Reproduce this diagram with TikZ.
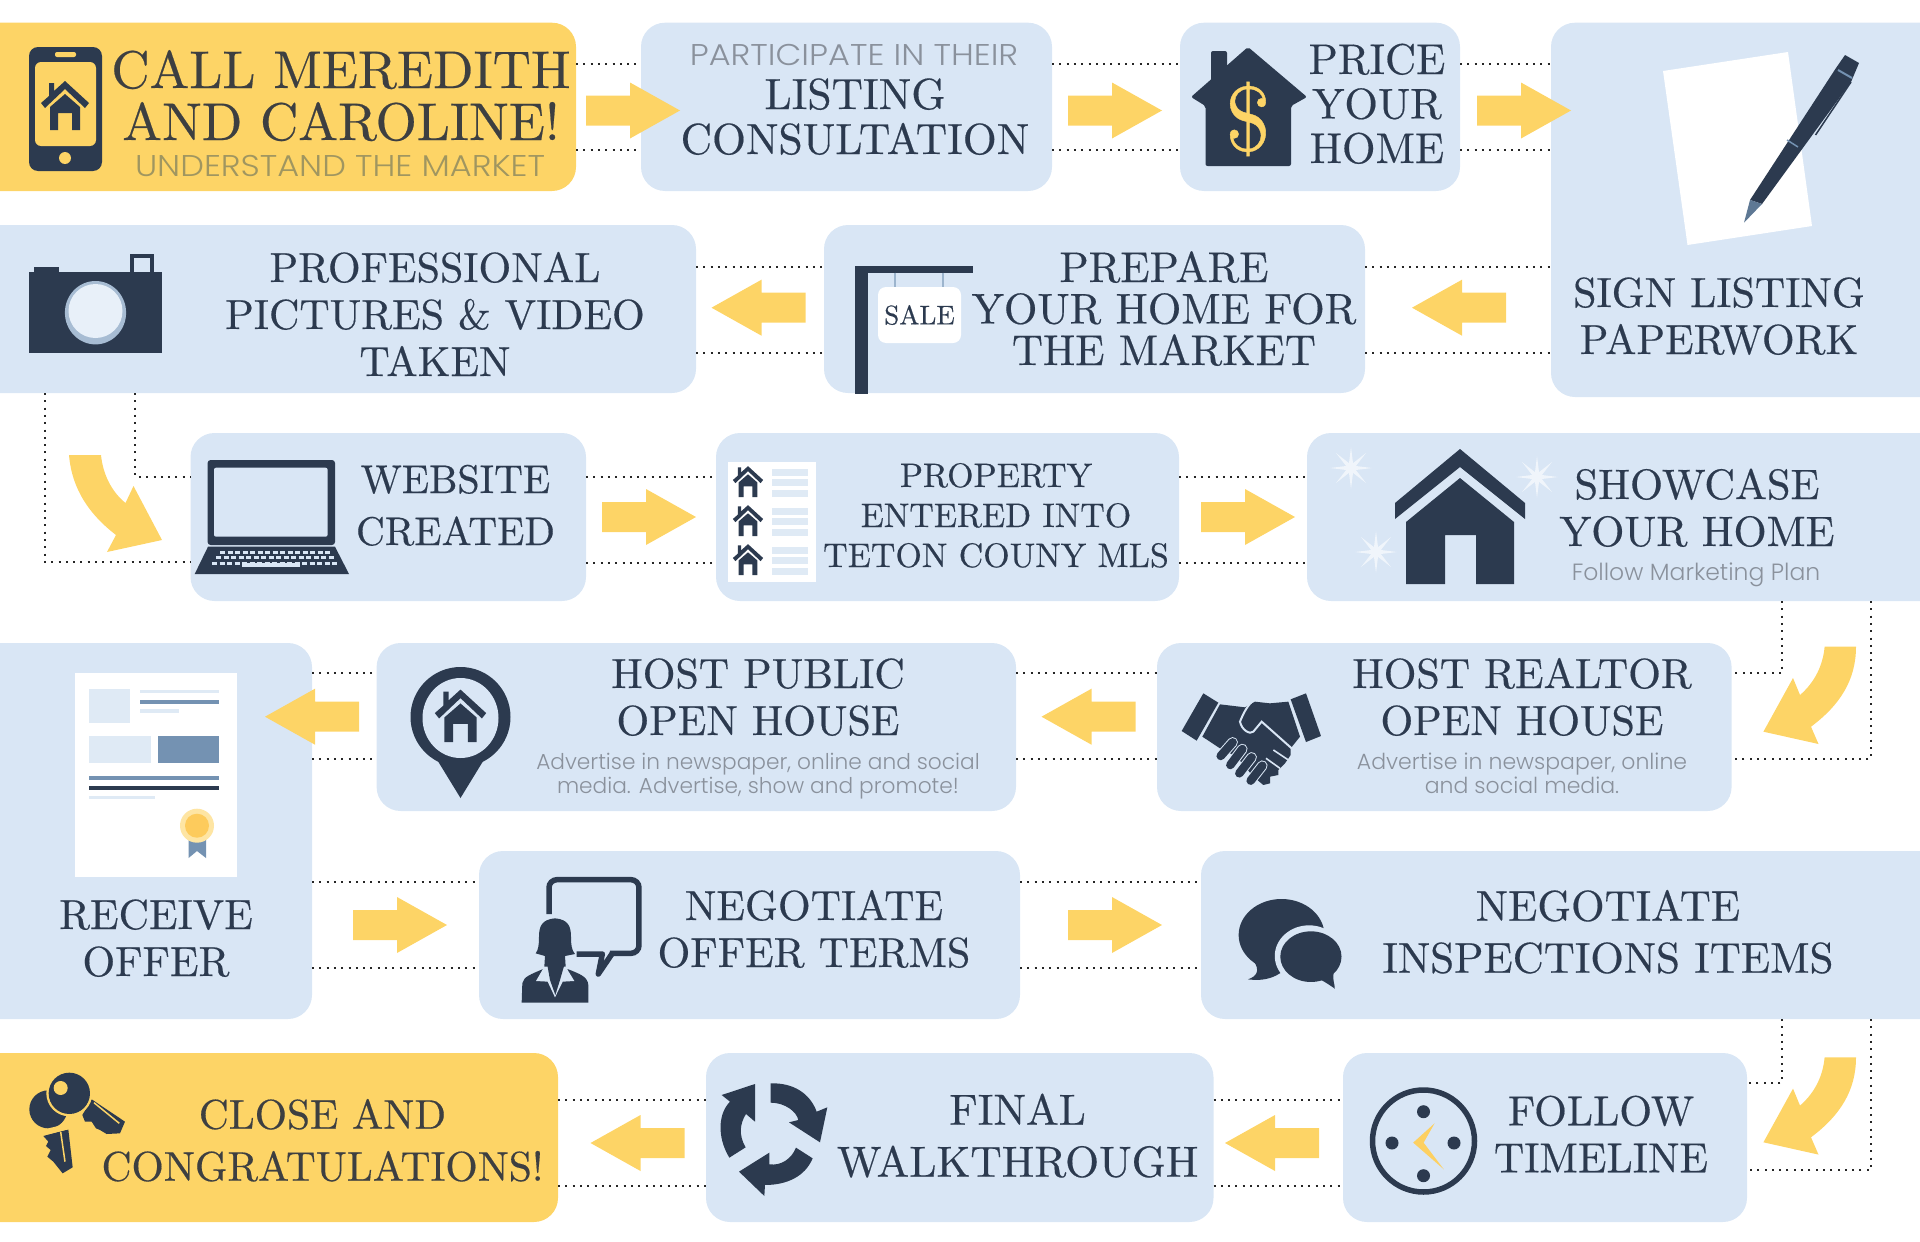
\documentclass[tikz,border=0pt]{standalone}
\usepackage{fontspec}
\usepackage{xcolor}
\usepackage{tikz}
\usetikzlibrary{shapes.geometric}

\setmainfont{lmroman10-regular.otf}[FakeBold=0.4]
\newfontfamily\subfont{Poppins}[UprightFont=* Light]
\newfontfamily\capsfont{Poppins}[UprightFont=* Light, FakeStretch=1.12]
\newcommand{\tsize}[2]{\fontsize{#1}{#2}\selectfont}

\definecolor{navy}{HTML}{2C3A4F}
\definecolor{boxblue}{HTML}{D9E6F5}
\definecolor{sun}{HTML}{FDD466}
\definecolor{slate}{HTML}{7492B2}
\definecolor{pale}{HTML}{DFEAF5}
\definecolor{graytext}{HTML}{8A919C}
\definecolor{olivetext}{HTML}{A09660}
\definecolor{warmtext}{HTML}{3D3F41}

\tikzset{
  panel/.style={rounded corners=24pt, inner sep=0pt, outer sep=0pt},
  title/.style={anchor=base, align=center, inner sep=0pt, text=navy},
  warmtitle/.style={title, text=warmtext},
  subtitle/.style={title, text=graytext},
  dotline/.style={black!85, line width=2pt, dash pattern=on 2pt off 5.3pt},
  sparkle/.style={star, star points=8, star point ratio=4, fill=white!60!boxblue, minimum size=42pt, inner sep=0pt},
  rarrow/.pic={\fill[sun] (-47,-15) -- (-3,-15) -- (-3,-28) -- (47,0) -- (-3,28) -- (-3,15) -- (-47,15) -- cycle;},
  homeicon/.pic={
    \fill[navy] (0,-49) -- (24,-27) -- (20,-22) -- (0,-41) -- (-20,-22) -- (-24,-27) -- (-16,-34) -- (-16,-47) -- (-11,-47) -- (-11,-39) -- cycle;
    \fill[navy] (0,-36) -- (15,-23) -- (15,0) -- (7,0) -- (7,-17) -- (-7,-17) -- (-7,0) -- (-15,0) -- (-15,-23) -- cycle;
  },
  zoomed/.style={x=.6124pt, y=-.3333pt},
  crop/.style={x=.3333pt, y=-.3333pt},
}

\begin{document}
\begin{tikzpicture}[x=1pt, y=-1pt]
  \useasboundingbox (0,0) rectangle (1920,1242);
  \clip (0,0) rectangle (1920,1242);

  % panels: name, left, right, top, bottom, colour
  \foreach \n/\xa/\xb/\ya/\yb/\c in {
      call/-30/576/22.7/191/sun, part/641/1052/22.7/191/boxblue, price/1180/1460/22.7/191/boxblue, sign/1551/1950/22.7/397/boxblue,
      prof/-30/696/225/393/boxblue, prepare/824/1365/225/393/boxblue,
      web/190.5/586/433/601/boxblue, prop/716/1179/433/601/boxblue, show/1307/1950/433/601/boxblue,
      recv/-30/312/643/1019/boxblue, pub/376.6/1016/643/811/boxblue, real/1157/1731.6/643/811/boxblue,
      offer/479/1020/851/1019/boxblue, insp/1201/1950/851/1019/boxblue,
      close/-30/558/1053/1222/sun, final/706/1213.5/1053/1222/boxblue, follow/1343/1747/1053/1222/boxblue}{%
    \node[panel, fill=\c, minimum width={(\xb-\xa)*1pt}, minimum height={(\yb-\ya)*1pt}] (\n) at ({(\xa+\xb)/2},{(\ya+\yb)/2}) {};
  }

  % dotted rails between neighbours
  \foreach \a/\b/\y in {call/part/106.5, part/price/106.5, price/sign/106.5,
      prof/prepare/309.5, prepare/sign/309.5,
      web/prop/519.5, prop/show/519.5,
      recv/pub/716, pub/real/716,
      recv/offer/924.5, offer/insp/924.5,
      close/final/1143, final/follow/1143}{%
    \draw[dotline] (\a.east |- 0,\y-43) -- (\b.west |- 0,\y-43);
    \draw[dotline] (\a.east |- 0,\y+43) -- (\b.west |- 0,\y+43);
  }

  % dotted rails between rows
  \draw[dotline] (prof.south -| 45,0) -- (45,562) -- (web.west |- 45,562);
  \draw[dotline] (prof.south -| 135,0) -- (135,476.7) -- (web.west |- 135,476.7);
  \draw[dotline] (show.south -| 1782,0) -- (1782,673) -- (real.east |- 1782,673);
  \draw[dotline] (show.south -| 1871,0) -- (1871,759) -- (real.east |- 1871,759);
  \draw[dotline] (insp.south -| 1782,0) -- (1782,1083) -- (follow.east |- 1782,1083);
  \draw[dotline] (insp.south -| 1871,0) -- (1871,1170) -- (follow.east |- 1871,1170);

  % block arrows
  \foreach \x/\y in {633/110.5, 1115/110.5, 1524/110.5, 649/517, 1248/517, 400/925, 1115/925}{%
    \pic at (\x,\y) {rarrow};
  }
  \foreach \x/\y in {758.5/307.7, 1459/307.7, 312/716.7, 1088.5/716.7, 637.5/1143, 1272/1143}{%
    \pic[xscale=-1] at (\x,\y) {rarrow};
  }
  \fill[sun] (69,455) -- (101,455) .. controls (103,475) and (112,492) .. (125.5,503) -- (133.5,486) -- (162,540) -- (107,552) -- (116,535) .. controls (90,515) and (72,490) .. (69,455) -- cycle;
  \foreach \s in {0,410.6}{%
    \fill[sun, shift={(0,\s)}] (1856,646.7) -- (1824.6,646.7) .. controls (1823,665) and (1815,682) .. (1800,695) -- (1793,678) -- (1763.4,731.7) -- (1818.5,744) -- (1811,726.7) .. controls (1840,705) and (1856,680) .. (1856,646.7) -- cycle;
  }

  % titles
  \node[warmtitle, font=\tsize{53}{52}] (calltext) at (341,140) {CALL MEREDITH\\AND CAROLINE!};
  \node[title, font=\capsfont\tsize{30}{30}, text=olivetext] (callsub) at (340,176) {UNDERSTAND THE MARKET};
  \node[subtitle, font=\capsfont\tsize{30}{30}] (partsub) at (854,65) {PARTICIPATE IN THEIR};
  \node[title, font=\tsize{43.5}{45}] (parttext) at (855,154) {LISTING\\CONSULTATION};
  \node[title, font=\tsize{43}{44.5}] (pricetext) at (1377,163) {PRICE\\YOUR\\HOME};
  \node[title, font=\tsize{42}{47}] (signtext) at (1719,354) {SIGN LISTING\\PAPERWORK};
  \node[title, font=\tsize{42}{47}] (proftext) at (435,376) {PROFESSIONAL\\PICTURES \& VIDEO\\TAKEN};
  \node[title, font=\tsize{43}{41.5}] (preptext) at (1164,365) {PREPARE\\YOUR HOME FOR\\THE MARKET};
  \node[title, font=\tsize{40}{52}] (webtext) at (455.5,545) {WEBSITE\\CREATED};
  \node[title, font=\tsize{34}{40}] (proptext) at (996,567) {PROPERTY\\ENTERED INTO\\TETON COUNY MLS};
  \node[title, font=\tsize{42.5}{47}] (showtext) at (1697,546) {SHOWCASE\\YOUR HOME};
  \node[subtitle, font=\subfont\tsize{23.5}{25}] (showsub) at (1696,580) {Follow Marketing Plan};
  \node[title, font=\tsize{42}{47}] (pubtext) at (758,735) {HOST PUBLIC\\OPEN HOUSE};
  \node[subtitle, font=\subfont\tsize{21.7}{24}] (pubsub) at (758,793) {Advertise in newspaper, online and social\\media. Advertise, show and promote!};
  \node[title, font=\tsize{42}{47}] (realtext) at (1522,735) {HOST REALTOR\\OPEN HOUSE};
  \node[subtitle, font=\subfont\tsize{22}{24}] (realsub) at (1522,793) {Advertise in newspaper, online\\and social media.};
  \node[title, font=\tsize{42}{47}] (recvtext) at (156,976) {RECEIVE\\OFFER};
  \node[title, font=\tsize{42}{47}] (offertext) at (814,967) {NEGOTIATE\\OFFER TERMS};
  \node[title, font=\tsize{43}{52}] (insptext) at (1608,972.7) {NEGOTIATE\\INSPECTIONS ITEMS};
  \node[warmtitle, font=\tsize{41.5}{52}] (closetext) at (322.5,1180.7) {CLOSE AND\\CONGRATULATIONS!};
  \node[title, font=\tsize{43.5}{52}] (finaltext) at (1017.6,1176.7) {FINAL\\WALKTHROUGH};
  \node[title, font=\tsize{42}{47}] (followtext) at (1601,1172.3) {FOLLOW\\TIMELINE};

  % phone
  \fill[navy, rounded corners=9pt] (29,47) rectangle (102,171);
  \fill[sun, rounded corners=6pt] (35,62) rectangle (96,146);
  \fill[sun, rounded corners=2pt] (55,52) rectangle (76,57);
  \fill[sun] (65,158) circle (6);
  \pic at (65,130) {homeicon};

  % house with dollar
  \fill[navy, rounded corners=2pt] (1211,51) rectangle (1227,90);
  \fill[navy, rounded corners=2pt] (1248,47) -- (1307,97) -- (1291,106) -- (1291,166) -- (1205.5,166) -- (1205.5,106) -- (1191,97) -- cycle;
  \node[font=\tsize{92}{92}, text=sun, inner sep=0pt] (dollar) at (1248,119) {\$};

  % paper and pen
  \fill[white] (1663,71) -- (1788,52) -- (1812,226) -- (1687.5,245) -- cycle;
  \fill[navy] (1750,200) -- (1836,68) -- (1845,55) -- (1859,63) -- (1851,82) -- (1762,204) -- cycle;
  \fill[slate!70!navy] (1750,200) -- (1762,204) -- (1744,222.7) -- cycle;
  \draw[navy, line width=1.5pt] (1851,82) -- (1815.5,135);
  \draw[slate, line width=2pt] (1838,70) -- (1852,78);
  \draw[slate, line width=1.5pt] (1787,140) -- (1798,147);

  % camera
  \fill[navy] (29,272) rectangle (162,353);
  \fill[navy] (34,267) rectangle (59,272);
  \fill[navy] (130,254) rectangle (154,272);
  \fill[boxblue] (134,258) rectangle (150,272);
  \fill[slate!50!boxblue] (95.5,312.7) ellipse (30.6 and 31.7);
  \fill[white!40!boxblue] (95.5,311) circle (27);

  % sale sign
  \fill[navy] (855,266) rectangle (868,394);
  \fill[navy] (855,266) rectangle (973,272.7);
  \draw[slate!60!boxblue, line width=1.5pt] (895,272.7) -- (895,288);
  \draw[slate!60!boxblue, line width=1.5pt] (943,272.7) -- (943,288);
  \node[rounded corners=8pt, fill=white, minimum width=83pt, minimum height=56pt, inner sep=0pt, font=\tsize{27}{27}, text=navy] (saleplate) at (919.5,315) {SALE};

  % laptop
  \fill[navy, rounded corners=3pt] (207.6,460) rectangle (335,545);
  \fill[boxblue, rounded corners=2pt] (214,467.7) rectangle (327.6,536.7);
  \fill[navy] (208,546.7) -- (335,546.7) -- (349,574) -- (194.7,574) -- cycle;
  \foreach \ya/\xa/\xb in {552.7/220/331, 557.7/216/334, 563.3/212/338}{%
    \draw[boxblue, line width=3pt, dash pattern=on 5pt off 2.5pt] (\xa,\ya) -- (\xb,\ya);
  }
  \draw[boxblue, line width=3.5pt] (242,565) -- (300,565);

  % listing sheet
  \fill[white] (728,462) rectangle (816,582);
  \foreach \y in {497,536,575}{%
    \pic[scale=.63] at (748,\y) {homeicon};
    \foreach \d in {-28,-18,-7}{%
      \fill[pale] (772,\y+\d) rectangle (808,\y+\d+7);
    }
  }

  % showcase house
  \fill[navy] (1460,449) -- (1525,503) -- (1525,519) -- (1460,467) -- (1395,519) -- (1395,503) -- cycle;
  \fill[navy] (1460,478) -- (1514,522) -- (1514,584) -- (1476,584) -- (1476,535) -- (1445,535) -- (1445,584) -- (1406,584) -- (1406,522) -- cycle;
  \foreach \x/\y [count=\i] in {1351/468, 1537/477, 1376/552}{%
    \node[sparkle] (spark\i) at (\x,\y) {};
  }

  % map pin
  \fill[navy] (460.5,717) circle (50);
  \fill[navy] (436,758) -- (485,758) -- (460.5,798) -- cycle;
  \fill[boxblue] (460.5,718) ellipse (38 and 40);
  \pic[scale=1.07] at (460.5,742) {homeicon};

  % handshake
  \begin{scope}[crop, xshift=1170pt, yshift=-680pt]
    \fill[navy] (100,40) -- (145,68) -- (80,182) -- (35,153) -- cycle;
    \fill[navy] (362,58) -- (408,40) -- (453,168) -- (408,186) -- cycle;
    \fill[navy] (150,73) -- (225,82) -- (255,65) -- (300,70) -- (355,65) -- (390,170) -- (362,205) -- (362,225) -- (345,250) -- (325,270) -- (325,285) -- (300,290) -- (300,310) -- (280,315) -- (250,290) -- (200,230) -- (150,205) -- (97,170) -- cycle;
    \draw[boxblue, line width=2pt] (245,66) .. controls (230,80) and (218,105) .. (210,125) .. controls (215,150) and (240,165) .. (250,155) -- (275,125) -- (365,205);
    \draw[boxblue, line width=1.6pt] (310,210) -- (355,240);
    \draw[boxblue, line width=1.6pt] (288,235) -- (330,265);
    \foreach \xa/\ya/\xb/\yb in {152/228/188/187, 181/255/217/207, 208/280/245/232, 242/302/277/257}{%
      \draw[boxblue, line width=10.5pt, line cap=round] (\xa,\ya) -- (\xb,\yb);
      \draw[navy, line width=8.5pt, line cap=round] (\xa,\ya) -- (\xb,\yb);
    }
  \end{scope}

  % certificate
  \fill[white] (75,672.7) rectangle (237,877);
  \fill[pale] (89,689) rectangle (130,723);
  \fill[pale] (140,690) rectangle (219,693);
  \fill[slate] (140,699.5) rectangle (219,703.5);
  \fill[pale] (140,709) rectangle (179,712.7);
  \fill[pale] (89,736) rectangle (151,763);
  \fill[slate] (158,736) rectangle (219,763);
  \fill[slate] (89,776) rectangle (219,780);
  \fill[navy] (89,785.7) rectangle (219,789.7);
  \fill[pale] (89,796) rectangle (155,799.3);
  \fill[slate] (188.6,838) -- (206,838) -- (206,858) -- (197,851) -- (188.6,858) -- cycle;
  \fill[sun!60!white] (197,825.7) circle (17);
  \fill[sun!90!orange] (197,825.7) circle (12);

  % woman and speech bubble
  \begin{scope}[crop, xshift=515pt, yshift=-870pt]
    \draw[navy, line width=5.5pt, rounded corners=8pt] (102,132) -- (102,29) -- (372,29) -- (372,250) -- (285,250);
    \draw[navy, line width=5.5pt, line join=round] (292,250) -- (250,312) -- (262,252) -- (185,252);
    \fill[navy] (120,145) .. controls (80,148) and (72,170) .. (72,200) .. controls (72,225) and (70,240) .. (62,250) -- (90,258) -- (88,290) -- (152,290) -- (150,258) -- (180,252) .. controls (170,240) and (168,225) .. (168,200) .. controls (168,170) and (160,148) .. (120,145) -- cycle;
    \fill[navy] (20,398) -- (22,340) .. controls (25,320) and (50,312) .. (82,298) -- (160,298) .. controls (195,312) and (218,320) .. (220,345) -- (220,398) -- cycle;
    \fill[boxblue] (85,295) -- (63,333) -- (98,335) -- (120,382) -- (143,335) -- (178,333) -- (155,295) -- cycle;
    \fill[navy] (97,285) -- (148,285) -- (135,330) -- (121,375) -- (105,330) -- cycle;
  \end{scope}

  % chat bubbles
  \begin{scope}[zoomed, xshift=960pt, yshift=-830pt]
    \fill[navy] (525,315) ellipse (70 and 108);
    \fill[navy] (480,395) .. controls (490,420) and (485,440) .. (470,448) .. controls (500,455) and (520,440) .. (535,410) -- cycle;
    \fill[boxblue] (570,378) ellipse (56 and 92);
    \fill[navy] (573,380) ellipse (50 and 76);
    \fill[navy] (580,440) .. controls (590,450) and (600,460) .. (612,476) .. controls (612,460) and (608,450) .. (610,430) -- cycle;
  \end{scope}

  % clock
  \draw[navy, line width=5.5pt] (1423.5,1141) circle (51);
  \foreach \x/\y in {1423.5/1111.7, 1423.5/1175.7, 1392/1143, 1454/1143}{%
    \fill[navy] (\x,\y) circle (6.5);
  }
  \begin{scope}[zoomed, xshift=960pt, yshift=-830pt]
    \fill[sun!95!orange] (775,880) -- (740,938) -- (790,1018) -- (757,938) -- cycle;
  \end{scope}

  % turning arrows
  \begin{scope}[crop, xshift=710pt, yshift=-1070pt]
    \fill[navy] (182,40) .. controls (250,38) and (300,70) .. (320,125) -- (352,112) -- (330,217) -- (237,157) -- (265,150) .. controls (260,125) and (225,98) .. (182,98) -- cycle;
    \fill[navy] (308,265) .. controls (285,320) and (230,345) .. (165,345) -- (163,378) -- (87,305) -- (178,248) -- (178,283) .. controls (215,288) and (245,265) .. (258,233) -- cycle;
    \fill[navy] (58,263) .. controls (20,200) and (25,130) .. (60,95) -- (35,75) -- (135,42) -- (135,155) -- (108,132) .. controls (90,160) and (85,195) .. (107,232) -- cycle;
  \end{scope}

  % keys
  \begin{scope}[crop, xshift=20pt, yshift=-1060pt]
    \fill[navy] (85,148) circle (57);
    \fill[navy] (70,228) -- (145,208) -- (158,322) -- (128,340) -- (100,305) -- (82,290) -- (92,270) -- (78,258) -- (85,245) -- cycle;
    \draw[sun, line width=1.5pt] (122,215) -- (135,305);
    \fill[sun] (85,205) -- (150,190) -- (150,207) -- (85,222) -- cycle;
    \fill[navy] (215,118) -- (315,185) -- (300,220) -- (260,222) -- (240,210) -- (228,205) -- (215,185) -- (195,185) -- (187,165) -- cycle;
    \draw[sun, line width=1.5pt] (222,128) -- (298,190);
    \fill[sun] (148,100) circle (69);
    \fill[navy] (148,100) circle (62);
    \fill[sun] (122,84) circle (21);
  \end{scope}
\end{tikzpicture}
\end{document}
